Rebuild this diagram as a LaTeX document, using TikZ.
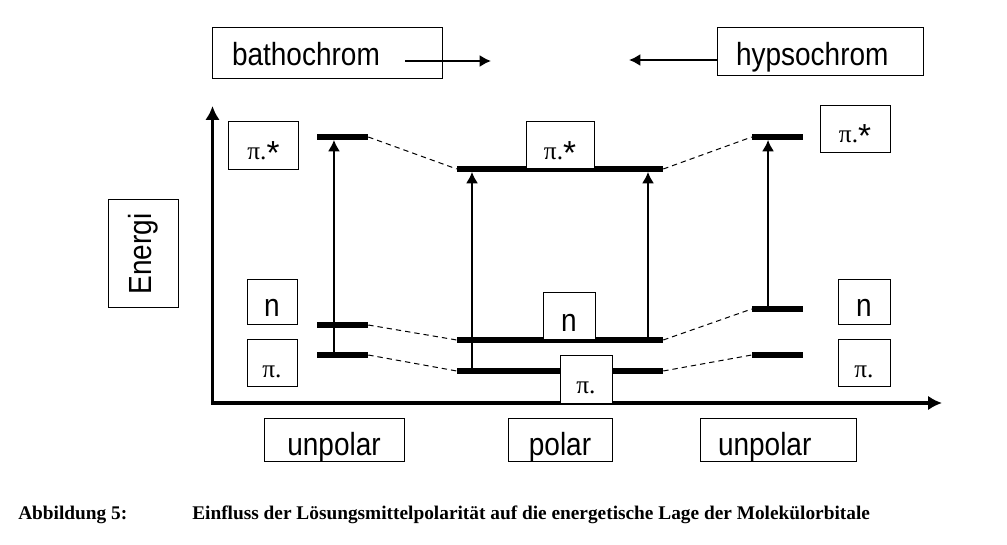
\documentclass[tikz,border=0pt]{standalone}
\usepackage{fontspec}
\setmainfont{Liberation Sans}
\newfontfamily\grkfont{Liberation Serif}
\newfontfamily\capfont{Liberation Serif}
\newcommand\pistar{π.\raisebox{-3.5pt}{\rmfamily\fontsize{25}{27}\selectfont*}}
\newcommand\cond[1]{\scalebox{0.875}[1]{#1}}
\usetikzlibrary{arrows.meta}

\tikzset{
  lvl/.style={fill=black, draw=none, inner sep=0pt, minimum height=4pt},
  box/.style={draw, fill=white, line width=0.75pt, inner ysep=0pt, inner xsep=0pt, font=\fontsize{24}{26}\selectfont},
  grkbox/.style={box, font=\grkfont\fontsize{19}{21}\selectfont},
  arr/.style={line width=1.4pt, -{Latex[length=8.5pt,width=9pt]}},
  dashlink/.style={line width=0.75pt, dash pattern=on 4pt off 3pt}
}

\begin{document}
\begin{tikzpicture}[x=0.75pt, y=-0.75pt]
  \useasboundingbox (0,0) rectangle (1007,545);
  \coordinate (org) at (212.5,403);
  \coordinate (ytop) at (212.5,106);
  \coordinate (xend) at (942,403);
  \draw[line width=2.8pt, {Latex[length=10.5pt,width=11pt]}-{Latex[length=10.5pt,width=11pt]}] (ytop) -- (org) -- (xend);
  \node[lvl, minimum width=38.25pt] (lpis) at (342.5,137) {};
  \node[lvl, minimum width=38.25pt] (ln) at (342.5,325) {};
  \node[lvl, minimum width=38.25pt] (lpi) at (342.5,355) {};
  \node[lvl, minimum width=154.5pt] (mpis) at (560,169) {};
  \node[lvl, minimum width=154.5pt] (mn) at (560,340) {};
  \node[lvl, minimum width=154.5pt] (mpi) at (560,371) {};
  \node[lvl, minimum width=38.25pt] (rpis) at (777.5,137) {};
  \node[lvl, minimum width=38.25pt] (rn) at (777.5,309) {};
  \node[lvl, minimum width=38.25pt] (rpi) at (777.5,355) {};
  \draw[arr] ([xshift=-6.4pt]lpi.center) -- ([xshift=-6.4pt]lpis.south);
  \draw[arr] ([xshift=-66pt]mpi.center) -- ([xshift=-66pt]mpis.south);
  \draw[arr] ([xshift=66pt]mn.center) -- ([xshift=66pt]mpis.south);
  \draw[arr] ([xshift=-7.1pt]rn.center) -- ([xshift=-7.1pt]rpis.south);
  \draw[dashlink] (lpis.east) -- (mpis.west);
  \draw[dashlink] (ln.east) -- (mn.west);
  \draw[dashlink] (lpi.east) -- (mpi.west);
  \draw[dashlink] (mpis.east) -- (rpis.west);
  \draw[dashlink] (mn.east) -- (rn.west);
  \draw[dashlink] (mpi.east) -- (rpi.west);
  \node[box, text width=142.5pt, align=left, inner xsep=15pt, text height=28.5pt, text depth=9.75pt] (batho) at (327,53.5) {\cond{bathochrom}};
  \node[box, text width=126pt, align=left, inner xsep=14.25pt, text height=28.5pt, text depth=7.5pt] (hypso) at (820,52) {\cond{hypsochrom}};
  \coordinate (bathtail) at (405,61);
  \coordinate (bathtip) at (491,61);
  \coordinate (hyptip) at (629,60);
  \draw[arr] (bathtail) -- (bathtip);
  \draw[arr] (hypso.west |- hyptip) -- (hyptip);
  \node[box, rotate=90, minimum width=81pt, minimum height=52.5pt, inner sep=0pt] (energ) at (143,254) {\cond{Energi}};
  \node[grkbox, minimum width=52.5pt, text height=28.5pt, text depth=7.5pt] (lpisbox) at (263.5,146) {\pistar};
  \node[box, minimum width=37.5pt, text height=27.75pt, text depth=6pt] (lnbox) at (272,302.5) {\cond{n}};
  \node[grkbox, minimum width=37.5pt, text height=28.5pt, text depth=6pt] (lpibox) at (272,363) {π.};
  \node[grkbox, minimum width=51pt, text height=28.5pt, text depth=6.75pt] (mpisbox) at (560,145.5) {\pistar};
  \node[box, minimum width=39pt, text height=29.25pt, text depth=6pt] (mnbox) at (569,316.5) {\cond{n}};
  \node[grkbox, minimum width=39pt, text height=27.75pt, text depth=7.5pt] (mpibox) at (586,379.5) {π.};
  \node[grkbox, minimum width=52.5pt, text height=27.75pt, text depth=7.5pt] (rpisbox) at (855,129.5) {\pistar};
  \node[box, minimum width=39pt, text height=27.75pt, text depth=6pt] (rnbox) at (864,302.5) {\cond{n}};
  \node[grkbox, minimum width=39pt, text height=28.5pt, text depth=6pt] (rpibox) at (864,363) {π.};
  \node[box, minimum width=105pt, text height=27.75pt, text depth=4.5pt] (lsolv) at (334,439.5) {\cond{unpolar}};
  \node[box, minimum width=78pt, text height=27.75pt, text depth=4.5pt] (msolv) at (560,439.5) {\cond{polar}};
  \node[box, text width=90pt, align=left, inner xsep=13.5pt, text height=27.75pt, text depth=4.5pt] (rsolv) at (778,439.5) {\cond{unpolar}};
  \node[anchor=base west, inner sep=0pt, font=\capfont\bfseries\fontsize{14.5}{16}\selectfont] (capnum) at (18,519) {Abbildung 5:};
  \node[anchor=base west, inner sep=0pt, font=\capfont\bfseries\fontsize{14.5}{16}\selectfont] (captxt) at (192,519) {Einfluss der Lösungsmittelpolarität auf die energetische Lage der Molekülorbitale};
\end{tikzpicture}
\end{document}
